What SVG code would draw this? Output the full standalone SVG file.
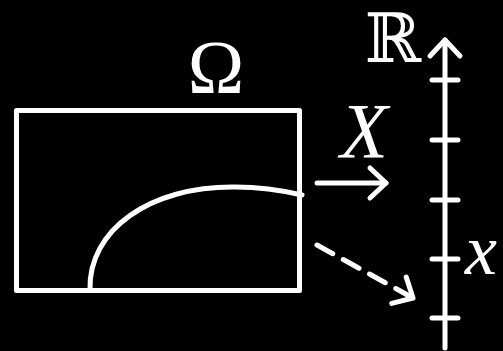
<svg xmlns="http://www.w3.org/2000/svg" width="503" height="351" viewBox="0 0 503 351">
<defs>
<style>
.s{fill:none;stroke:#fff;stroke-width:5;stroke-linecap:round;stroke-linejoin:round}
.t{fill:#fff;font-family:"Liberation Serif","DejaVu Serif",serif}
</style>
<marker id="ah" markerUnits="userSpaceOnUse" viewBox="-20 -20 26 40" refX="0" refY="0" markerWidth="26" markerHeight="40" orient="auto" overflow="visible">
<path d="M -16 -15 L 0 0 L -16 15" fill="none" stroke="#fff" stroke-width="5" stroke-linecap="round" stroke-linejoin="round"/>
</marker>
</defs>
<rect width="503" height="351" fill="#000"/>
<g id="omega">
<rect class="s" x="16.5" y="110.5" width="283" height="180" stroke-linecap="butt" stroke-linejoin="miter"/>
<path class="s" d="M 90 290 C 88 230, 150 186, 235 187 C 262 187, 285 191, 302 195"/>
<text class="t" x="216" y="93" font-size="76" text-anchor="middle">Ω</text>
</g>
<g id="axis">
<line class="s" x1="445" y1="348" x2="445" y2="40" marker-end="url(#ah)"/>
<g class="s">
<line x1="432" y1="80" x2="458" y2="80"/>
<line x1="432" y1="140" x2="458" y2="140"/>
<line x1="432" y1="200" x2="458" y2="200"/>
<line x1="432" y1="259" x2="458" y2="259"/>
<line x1="432" y1="318" x2="458" y2="318"/>
</g>
<text class="t" x="393" y="62" font-size="68" text-anchor="middle" style="font-family:'DejaVu Serif',serif">ℝ</text>
<text class="t" x="465" y="274" font-size="72" font-style="italic">x</text>
</g>
<g id="connectors">
<line class="s" x1="317" y1="183" x2="386" y2="183" marker-end="url(#ah)"/>
<line class="s" x1="317" y1="245" x2="413" y2="298" stroke-dasharray="18 12" marker-end="url(#ah)"/>
<text class="t" x="364" y="157" font-size="78" font-style="italic" text-anchor="middle">X</text>
</g>
</svg>
